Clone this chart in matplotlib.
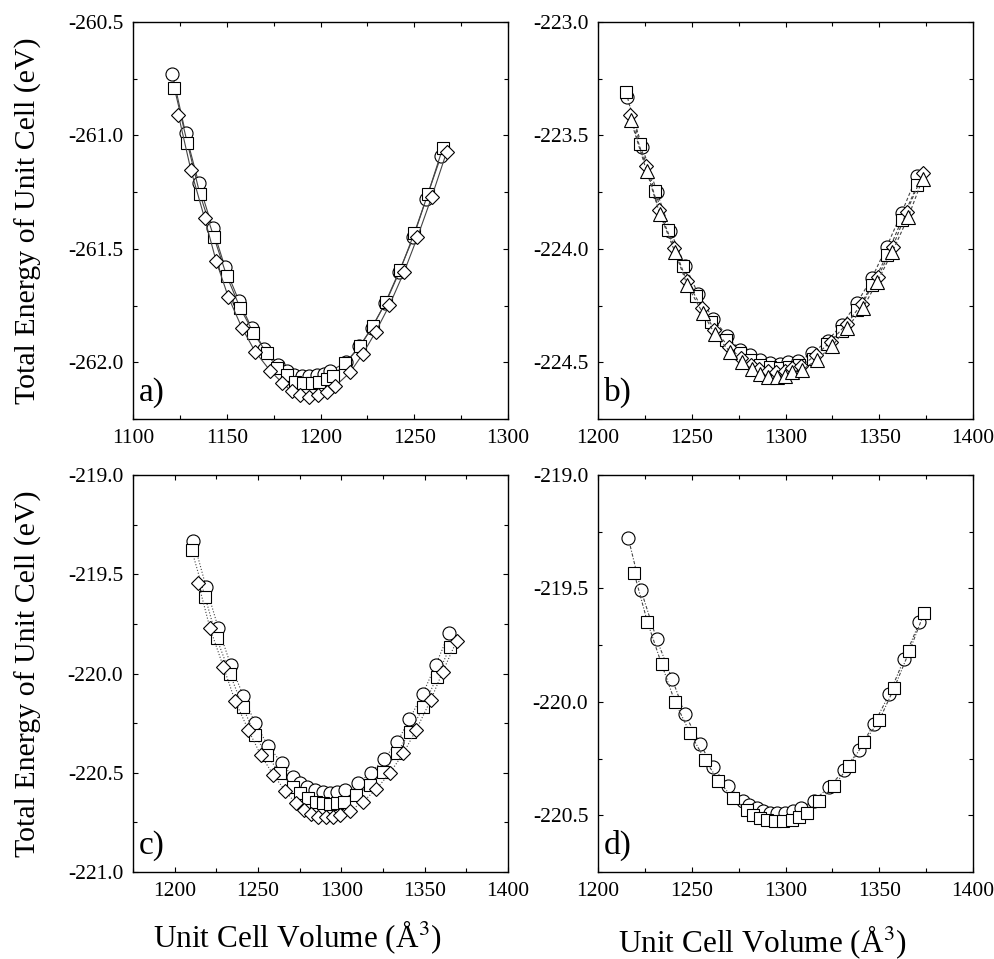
import matplotlib
matplotlib.use("Agg")
import matplotlib.pyplot as plt
from matplotlib.ticker import MultipleLocator, FormatStrFormatter

plt.rcParams['font.family'] = ['Liberation Serif', 'DejaVu Serif']
plt.rcParams['mathtext.fontset'] = 'stix'

# panel a)
a_circ_x = [1121, 1128, 1135, 1142.5, 1149, 1156.5, 1163.3, 1170, 1177.5, 1182, 1186, 1190,
            1194, 1198, 1202, 1205, 1213.6, 1220.7, 1227.3, 1234.4, 1241.9, 1249.5, 1256.3, 1264.3]
a_circ_y = [-260.73, -260.99, -261.21, -261.41, -261.58, -261.73, -261.85, -261.94, -262.01, -262.04,
            -262.055, -262.06, -262.06, -262.055, -262.05, -262.04, -262.00, -261.93, -261.85, -261.74,
            -261.60, -261.45, -261.28, -261.09]
a_sq_x = [1122, 1129, 1135.7, 1143.2, 1150, 1157.1, 1164.2, 1171.3, 1177, 1182, 1186.4, 1190.8,
          1195.3, 1199.4, 1203.3, 1206.8, 1213.1, 1221.1, 1227.8, 1234.9, 1242.4, 1250, 1257.2, 1265.2]
a_sq_y = [-260.79, -261.035, -261.26, -261.45, -261.62, -261.76, -261.87, -261.96, -262.025, -262.055,
          -262.085, -262.09, -262.09, -262.085, -262.075, -262.06, -262.005, -261.93, -261.84, -261.735,
          -261.595, -261.43, -261.26, -261.055]
a_dia_x = [1124.2, 1130.9, 1138.2, 1144.3, 1150.8, 1158, 1165.1, 1173.1, 1179.5, 1184.6, 1189.1, 1193.8,
           1198.5, 1203.3, 1207.7, 1215.7, 1222.5, 1229.4, 1236.7, 1244.5, 1251.6, 1259.3, 1267.3]
a_dia_y = [-260.91, -261.154, -261.366, -261.553, -261.712, -261.847, -261.953, -262.037, -262.09,
           -262.128, -262.145, -262.152, -262.145, -262.13, -262.106, -262.045, -261.964, -261.866,
           -261.749, -261.603, -261.45, -261.271, -261.072]

# panel b)
b_circ_x = [1215.5, 1223.5, 1231.5, 1238.5, 1246.5, 1253.5, 1261.5, 1269, 1275.7, 1281, 1286.4, 1291.7,
            1297, 1301.5, 1306.8, 1314.3, 1322.4, 1330, 1338, 1346, 1354, 1362, 1370]
b_circ_y = [-223.33, -223.55, -223.75, -223.92, -224.075, -224.2, -224.31, -224.385, -224.447, -224.469,
            -224.49, -224.505, -224.507, -224.5, -224.495, -224.46, -224.405, -224.335, -224.24, -224.13,
            -223.99, -223.84, -223.68]
b_sq_x = [1215, 1222.4, 1230.3, 1237.3, 1245.4, 1252.3, 1260.3, 1268.1, 1275.5, 1281, 1286.4, 1291.7,
          1297, 1302, 1307, 1314.5, 1322, 1330, 1338.2, 1346.2, 1354, 1362, 1370.3]
b_sq_y = [-223.31, -223.54, -223.745, -223.918, -224.076, -224.21, -224.322, -224.403, -224.46, -224.49,
          -224.51, -224.52, -224.525, -224.52, -224.51, -224.485, -224.42, -224.362, -224.27, -224.16,
          -224.028, -223.873, -223.719]
b_tri_x = [1217.4, 1225.9, 1233, 1241, 1247.6, 1255.8, 1262.4, 1270.4, 1276.6, 1282, 1286.4, 1290.8,
           1295.3, 1299.7, 1303.3, 1308.6, 1316.6, 1324.6, 1332.6, 1341.4, 1348.9, 1357, 1365.5, 1373.2]
b_tri_y = [-223.43, -223.656, -223.847, -224.013, -224.16, -224.282, -224.376, -224.454, -224.498,
           -224.528, -224.55, -224.565, -224.565, -224.56, -224.542, -224.535, -224.49, -224.43, -224.35,
           -224.259, -224.146, -224.013, -223.859, -223.69]
b_dia_x = [1217, 1225.5, 1232.6, 1240.6, 1247.3, 1255.5, 1262, 1270, 1276, 1281.5, 1286, 1290.5,
           1295, 1299.5, 1303.5, 1308.5, 1316, 1324, 1332.6, 1340.9, 1349.2, 1357.2, 1364.6, 1373.5]
b_dia_y = [-223.41, -223.635, -223.83, -223.995, -224.14, -224.262, -224.356, -224.434, -224.48, -224.51,
           -224.53, -224.54, -224.545, -224.54, -224.525, -224.515, -224.47, -224.41, -224.33, -224.241,
           -224.124, -223.991, -223.837, -223.665]

# panel c)
c_circ_x = [1211.2, 1218.8, 1226.2, 1233.6, 1241.2, 1248.2, 1256.2, 1264.2, 1271.2, 1275.2, 1279.6,
            1284.2, 1288.8, 1293.2, 1297.4, 1302, 1309.8, 1317.7, 1325.7, 1333.6, 1340.8, 1348.8,
            1356.6, 1364.6]
c_circ_y = [-219.33, -219.563, -219.772, -219.957, -220.113, -220.251, -220.365, -220.452, -220.523,
            -220.55, -220.572, -220.589, -220.595, -220.6, -220.597, -220.589, -220.553, -220.5, -220.43,
            -220.344, -220.231, -220.103, -219.957, -219.798]
c_sq_x = [1210.2, 1218.2, 1225.2, 1233.2, 1240.8, 1248.2, 1255.2, 1263.2, 1271.2, 1275.2, 1279.8, 1284.8,
          1289.2, 1293.2, 1297.2, 1301.5, 1309, 1317.2, 1325.2, 1333.2, 1341.2, 1349.2, 1357.2, 1365.2]
c_sq_y = [-219.378, -219.613, -219.823, -220.003, -220.167, -220.31, -220.41, -220.503, -220.57, -220.604,
          -220.629, -220.646, -220.654, -220.656, -220.654, -220.645, -220.612, -220.562, -220.495,
          -220.402, -220.293, -220.17, -220.019, -219.865]
c_dia_x = [1214.2, 1221.2, 1229.2, 1236.2, 1244.2, 1251.6, 1259.2, 1266.2, 1272.6, 1277.4, 1281.8,
           1286.2, 1290.8, 1295.2, 1299.2, 1305.2, 1313, 1321, 1329.2, 1337.2, 1344.8, 1353.6, 1360.8,
           1369.2]
c_dia_y = [-219.546, -219.772, -219.966, -220.137, -220.285, -220.41, -220.511, -220.59, -220.654,
           -220.686, -220.708, -220.721, -220.724, -220.721, -220.713, -220.692, -220.646, -220.582,
           -220.5, -220.402, -220.285, -220.134, -219.991, -219.835]

# panel d)
d_circ_x = [1216.2, 1222.9, 1231.3, 1239.6, 1246.4, 1254.4, 1261.5, 1269.5, 1277.2, 1280.6, 1284.6,
            1288.2, 1291.7, 1295.3, 1299.7, 1304.2, 1308.1, 1315.2, 1323.2, 1331.2, 1339.2, 1347.2,
            1355.4, 1363.2, 1371.4]
d_circ_y = [-219.279, -219.507, -219.724, -219.9, -220.054, -220.185, -220.289, -220.373, -220.435,
            -220.454, -220.47, -220.48, -220.488, -220.49, -220.49, -220.483, -220.468, -220.435,
            -220.376, -220.302, -220.211, -220.097, -219.966, -219.812, -219.65]
d_sq_x = [1219.2, 1226.3, 1233.9, 1241, 1249.1, 1257.1, 1264.2, 1271.8, 1279.6, 1282.8, 1286.4, 1290.3,
          1294.4, 1298.8, 1303.3, 1307.4, 1311.3, 1318, 1325.9, 1333.9, 1341.9, 1349.9, 1357.9, 1366, 1374]
d_sq_y = [-219.43, -219.646, -219.833, -219.999, -220.138, -220.256, -220.347, -220.424, -220.478,
          -220.5, -220.512, -220.52, -220.524, -220.525, -220.52, -220.508, -220.488, -220.436, -220.37,
          -220.282, -220.179, -220.082, -219.94, -219.778, -219.607]

MS = {'o': 9.4, 's': 8.2, 'D': 7.4, '^': 9.4}


def draw(ax, series, ls):
    for x, y, m in series:
        ax.plot(x, y, color='#444444', lw=0.8, ls=ls, marker=m, ms=MS[m],
                mfc='white', mec='black', mew=0.8)


def style(ax, xlim, ylim, xmaj, label):
    ax.set_xlim(*xlim)
    ax.set_ylim(*ylim)
    ax.xaxis.set_major_locator(MultipleLocator(xmaj))
    ax.xaxis.set_minor_locator(MultipleLocator(xmaj / 2))
    ax.yaxis.set_major_locator(MultipleLocator(0.5))
    ax.yaxis.set_minor_locator(MultipleLocator(0.25))
    ax.yaxis.set_major_formatter(FormatStrFormatter('%.1f'))
    ax.tick_params(which='both', direction='in', top=True, right=True, labelsize=15.5, pad=7)
    ax.tick_params(which='major', length=3.8, width=0.8)
    ax.tick_params(which='minor', length=2.6, width=0.8)
    for sp in ax.spines.values():
        sp.set_linewidth(1.0)
    ax.text(0.015, 0.045, label, transform=ax.transAxes, fontsize=24, ha='left', va='baseline')


fig = plt.figure(figsize=(9.95, 9.59), dpi=100)
w, h = 0.3769, 0.414
ax_a = fig.add_axes([0.1337, 0.5631, w, h])
ax_b = fig.add_axes([0.601, 0.5631, w, h])
ax_c = fig.add_axes([0.1337, 0.0907, w, h])
ax_d = fig.add_axes([0.601, 0.0907, w, h])

draw(ax_a, [(a_circ_x, a_circ_y, 'o'), (a_sq_x, a_sq_y, 's'), (a_dia_x, a_dia_y, 'D')], '-')
draw(ax_b, [(b_circ_x, b_circ_y, 'o'), (b_sq_x, b_sq_y, 's'), (b_dia_x, b_dia_y, 'D'),
            (b_tri_x, b_tri_y, '^')], (0, (3, 2)))
draw(ax_c, [(c_circ_x, c_circ_y, 'o'), (c_sq_x, c_sq_y, 's'), (c_dia_x, c_dia_y, 'D')], ':')
draw(ax_d, [(d_circ_x, d_circ_y, 'o'), (d_sq_x, d_sq_y, 's')], (0, (3, 1.5, 1, 1.5)))

style(ax_a, (1100, 1300), (-262.25, -260.5), 50, 'a)')
style(ax_b, (1200, 1400), (-224.75, -223.0), 50, 'b)')
style(ax_c, (1175, 1400), (-221.0, -219.0), 50, 'c)')
style(ax_d, (1200, 1400), (-220.75, -219.0), 50, 'd)')

ylab = 'Total Energy of Unit Cell (eV)'
fig.text(0.028, 0.77, ylab, rotation=90, fontsize=21.5, ha='center', va='center')
fig.text(0.028, 0.298, ylab, rotation=90, fontsize=21.5, ha='center', va='center')
xlab = 'Unit Cell Volume (Å$^3$)'
fig.text(0.2985, 0.023, xlab, fontsize=22.5, ha='center', va='center')
fig.text(0.766, 0.018, xlab, fontsize=22.5, ha='center', va='center')

fig.savefig('out.png', dpi=100)
